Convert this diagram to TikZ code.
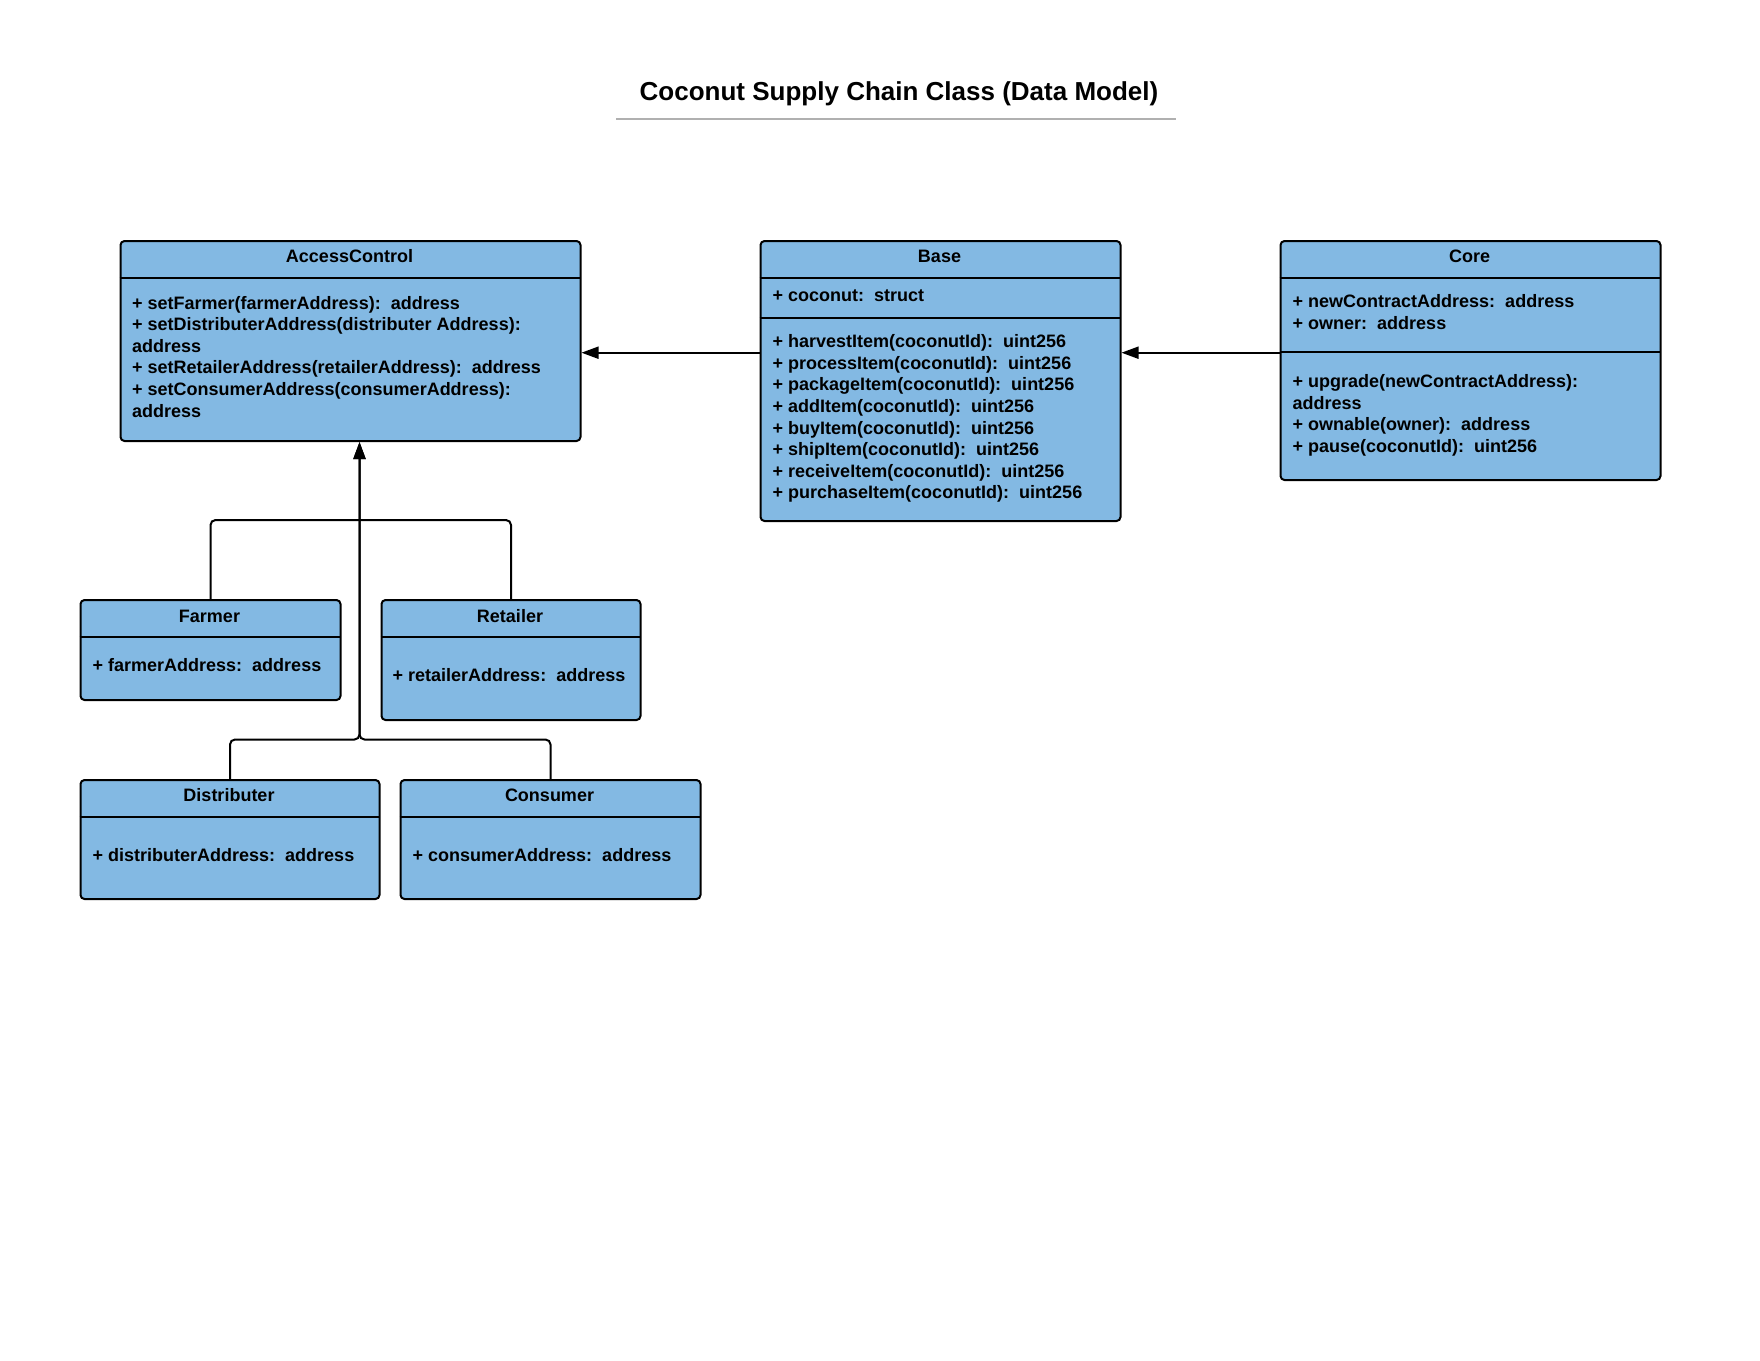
\documentclass[tikz,border=0pt]{standalone}
\usepackage{fontspec}
\setmainfont{Liberation Sans}
\usetikzlibrary{arrows.meta}
\definecolor{umlblue}{RGB}{131,185,227}
\definecolor{rulegray}{RGB}{176,176,176}
\newcommand{\txtlines}[1]{\begin{tabular}[t]{@{}l@{}}#1\end{tabular}}
\begin{document}
\begin{tikzpicture}[x=1pt,y=-1pt,
  classbox/.style={draw=black, line width=2pt, fill=umlblue, rounded corners=4pt,
    anchor=north west, inner sep=0pt},
  sepline/.style={draw=black, line width=2pt},
  hdr/.style={anchor=base, inner sep=0pt, font=\fontsize{18pt}{21.6pt}\selectfont\bfseries},
  body/.style={anchor=base west, inner sep=0pt, font=\fontsize{18pt}{21.6pt}\selectfont\bfseries},
  conn/.style={draw=black, line width=2pt},
  tip/.style={-{Triangle[length=17pt,width=12pt]}}
]
\useasboundingbox[fill=white] (0,0) rectangle (1760,1360);

% title
\node[anchor=base, inner sep=0pt, font=\fontsize{26pt}{31pt}\selectfont\bfseries] (title) at (899,100.5) {Coconut Supply Chain Class (Data Model)};
\draw[draw=rulegray, line width=2pt] (616,119) -- (1176,119);

% AccessControl
\node[classbox, minimum width=460pt, minimum height=200pt] (ac) at (119.5,240) {};
\draw[sepline] (119.5,277.5) -- (579.5,277.5);
\node[hdr] (ach) at (349.5,262.7) {AccessControl};
\node[body] (acb) at (132,309) {\txtlines{%
+ setFarmer(farmerAddress):~~address\\
+ setDistributerAddress(distributer Address):\\
address\\
+ setRetailerAddress(retailerAddress):~~address\\
+ setConsumerAddress(consumerAddress):\\
address}};

% Base
\node[classbox, minimum width=360pt, minimum height=280pt] (base) at (759.5,240) {};
\draw[sepline] (759.5,278) -- (1119.5,278);
\draw[sepline] (759.5,318) -- (1119.5,318);
\node[hdr] (baseh) at (939.5,262.7) {Base};
\node[body] (basea) at (772.5,301.7) {+ coconut:~~struct};
\node[body] (basem) at (772.5,347.7) {\txtlines{%
+ harvestItem(coconutId):~~uint256\\
+ processItem(coconutId):~~uint256\\
+ packageItem(coconutId):~~uint256\\
+ addItem(coconutId):~~uint256\\
+ buyItem(coconutId):~~uint256\\
+ shipItem(coconutId):~~uint256\\
+ receiveItem(coconutId):~~uint256\\
+ purchaseItem(coconutId):~~uint256}};

% Core
\node[classbox, minimum width=380pt, minimum height=239pt] (core) at (1279.5,240) {};
\draw[sepline] (1279.5,278) -- (1659.5,278);
\draw[sepline] (1279.5,352) -- (1659.5,352);
\node[hdr] (coreh) at (1469.5,262.7) {Core};
\node[body] (corea) at (1292.5,307.7) {\txtlines{%
+ newContractAddress:~~address\\
+ owner:~~address}};
\node[body] (corem) at (1292.5,387.7) {\txtlines{%
+ upgrade(newContractAddress):\\
address\\
+ ownable(owner):~~address\\
+ pause(coconutId):~~uint256}};

% Farmer
\node[classbox, minimum width=260pt, minimum height=100pt] (farmer) at (79.5,599) {};
\draw[sepline] (79.5,637) -- (339.5,637);
\node[hdr] (farmerh) at (209.5,622) {Farmer};
\node[body] (farmerb) at (92.5,671.7) {+ farmerAddress:~~address};

% Retailer
\node[classbox, minimum width=259pt, minimum height=120pt] (ret) at (380.5,599) {};
\draw[sepline] (380.5,637) -- (639.5,637);
\node[hdr] (reth) at (510,622) {Retailer};
\node[body] (retb) at (392.5,681.7) {+ retailerAddress:~~address};

% Distributer
\node[classbox, minimum width=299pt, minimum height=119pt] (dist) at (79.5,779) {};
\draw[sepline] (79.5,817) -- (378.5,817);
\node[hdr] (disth) at (229,801.7) {Distributer};
\node[body] (distb) at (92.5,861.7) {+ distributerAddress:~~address};

% Consumer
\node[classbox, minimum width=300pt, minimum height=119pt] (cons) at (399.5,779) {};
\draw[sepline] (399.5,817) -- (699.5,817);
\node[hdr] (consh) at (549.5,801.7) {Consumer};
\node[body] (consb) at (412.5,861.7) {+ consumerAddress:~~address};

% connectors
\coordinate (trunktop) at (359.5,520);
\coordinate (trunkbot) at (359.5,739.5);
\draw[conn, tip] (base.west |- 0,352.7) -- (ac.east |- 0,352.7);
\draw[conn, tip] (core.west |- 0,352.7) -- (base.east |- 0,352.7);
\draw[conn, rounded corners=5pt] (farmer.north) |- (trunktop);
\draw[conn, rounded corners=5pt] (ret.north) |- (trunktop);
\draw[conn, tip, rounded corners=5pt] (dist.north) |- (trunkbot) -- (ac.south -| trunkbot);
\draw[conn, tip, rounded corners=5pt] (cons.north) |- (trunkbot) -- (ac.south -| trunkbot);
\end{tikzpicture}
\end{document}
